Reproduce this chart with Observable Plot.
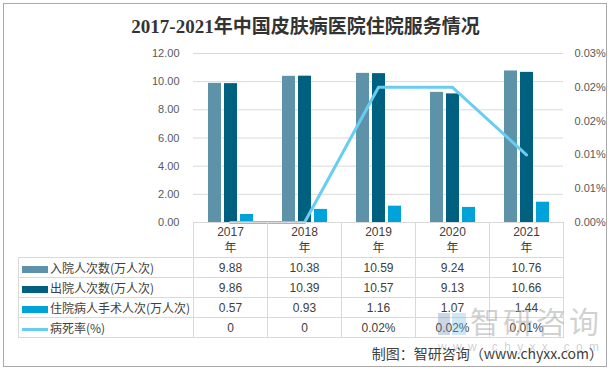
<!DOCTYPE html>
<html>
<head>
<meta charset="utf-8">
<script src="https://cdn.jsdelivr.net/npm/d3@7"></script>
<script src="https://cdn.jsdelivr.net/npm/@observablehq/plot@0.6"></script>
<style>
  body { margin: 0; background: #fff; }
  #wrap { position: relative; width: 611px; height: 371px; overflow: hidden; background: #fff;
          font-family: "Noto Sans CJK SC", "Liberation Sans", sans-serif; }
  #frame { position: absolute; left: 3px; top: 3px; width: 604px; height: 364px; box-sizing: border-box;
           border: 1.5px solid #a9a9a9; pointer-events: none; }
  #title { position: absolute; left: 0; width: 611px; top: 14px; text-align: center;
           font-family: "Liberation Serif", "Noto Sans CJK SC", serif; font-weight: bold; font-size: 19px;
           line-height: 26px; color: #333; }
  #chart { position: absolute; left: 0; top: 0; }
  #tbl { position: absolute; left: 18px; top: 222px; border-collapse: collapse; table-layout: fixed;
         width: 545px; font-size: 12px; color: #404040; }
  #tbl td { border: 1px solid #d9d9d9; padding: 0; text-align: center; white-space: nowrap; overflow: hidden;
            font-family: "Liberation Sans", "Noto Sans CJK SC", sans-serif; }
  #tbl tr.hdr td { height: 34px; line-height: 16px; }
  #tbl tr.row td { height: 19px; line-height: 16px; }
  #tbl td.blank { border-top: none; border-left: none; }
  #tbl td.lab { text-align: left; font-family: "Noto Sans CJK SC", sans-serif; }
  .sw { display: inline-block; width: 26px; vertical-align: middle; margin-left: 3px; margin-right: 2px; }
  #wm { position: absolute; left: 418px; top: 300px; color: rgba(170,170,170,0.55); pointer-events: none; }
  #wm .cn { position: absolute; left: 52px; top: 0px; font-size: 30px; letter-spacing: 3px; line-height: 40px; white-space: nowrap; }
  #wm .en { position: absolute; left: 20px; top: 40px; font-size: 12px; letter-spacing: 6.3px; line-height: 14px; white-space: nowrap;
            font-family: "Liberation Sans", sans-serif; }
  #wm .ic1 { position: absolute; left: 20px; top: 13px; width: 12px; height: 22px; background: rgba(110,140,175,0.35); }
  #wm .ic2 { position: absolute; left: 34px; top: 13px; width: 14px; height: 22px; background: rgba(120,190,230,0.35); }
  #caption { position: absolute; right: 8px; top: 343px; font-size: 14px; line-height: 20px; color: #404040; white-space: nowrap; }
</style>
</head>
<body>
<div id="wrap">
  <div id="title">2017-2021年中国皮肤病医院住院服务情况</div>
  <div id="chart"></div>
  <table id="tbl"></table>
  <div id="wm"><div class="ic1"></div><div class="ic2"></div><div class="cn">智研咨询</div><div class="en">www.chyxx.com</div></div>
  <div id="caption">制图：智研咨询（www.chyxx.com）</div>
  <div id="frame"></div>
</div>
<script>
// ---- data ----
const years = ["2017", "2018", "2019", "2020", "2021"];
const admissions = [9.88, 10.38, 10.59, 9.24, 10.76];   // 入院人次数(万人次)
const discharges = [9.86, 10.39, 10.57, 9.13, 10.66];   // 出院人次数(万人次)
const surgeries  = [0.57, 0.93, 1.16, 1.07, 1.44];      // 住院病人手术人次(万人次)
const mortality  = [0, 0, 0.024, 0.024, 0.012];         // 病死率(%)
const seriesNames = ["入院人次数(万人次)", "出院人次数(万人次)", "住院病人手术人次(万人次)", "病死率(%)"];
const leftTicks  = [0, 2, 4, 6, 8, 10, 12];
const rightTicks = [0, 0.006, 0.012, 0.018, 0.024, 0.03];
const leftMax = 12, rightMax = 0.03;
const colors = ["#5e92a9", "#00607f", "#00a2da", "#68cdf2"];

// ---- chart ----
const k = leftMax / rightMax;
const rows = years.map((y, i) => ({year: y, a: admissions[i], d: discharges[i], s: surgeries[i], m: mortality[i] * k}));

const chart = Plot.plot({
  width: 611, height: 371,
  marginTop: 53, marginBottom: 149, marginLeft: 193, marginRight: 48,
  style: {fontFamily: "'Liberation Sans', Arial, sans-serif", fontSize: "11px", color: "#595959", background: "transparent"},
  x: {type: "band", domain: years, padding: 0, axis: null},
  y: {domain: [0, leftMax], axis: null},
  marks: [
    Plot.ruleY(leftTicks.filter(t => t > 0), {stroke: "#d9d9d9", strokeWidth: 1}),
    Plot.axisY(leftTicks, {anchor: "left", tickSize: 0, tickPadding: 14, label: null, tickFormat: d => d.toFixed(2)}),
    Plot.axisY(rightTicks.map(t => t * k), {anchor: "right", tickSize: 0, tickPadding: 11, label: null, tickFormat: d => (d / k).toFixed(2) + "%"}),
    Plot.barY(rows, {x: "year", y: "a", fill: colors[0], insetLeft: 15, insetRight: 46}),
    Plot.barY(rows, {x: "year", y: "d", fill: colors[1], insetLeft: 31, insetRight: 30}),
    Plot.barY(rows, {x: "year", y: "s", fill: colors[2], insetLeft: 47, insetRight: 14}),
    Plot.line(rows, {x: "year", y: "m", stroke: colors[3], strokeWidth: 3})
  ]
});
document.getElementById("chart").appendChild(chart);

// ---- data table ----
const fmtRate = v => v === 0 ? "0" : v.toFixed(2) + "%";
const seriesVals = [admissions.map(v => v.toFixed(2)), discharges.map(v => v.toFixed(2)), surgeries.map(v => v.toFixed(2)), mortality.map(fmtRate)];
const tbl = document.getElementById("tbl");
let html = '<colgroup><col style="width:175px">' + years.map(() => '<col style="width:74px">').join("") + '</colgroup>';
html += '<tr class="hdr"><td class="blank"></td>' + years.map(y => `<td>${y}<br>年</td>`).join("") + '</tr>';
seriesNames.forEach((name, i) => {
  const sw = i < 3
    ? `<span class="sw" style="height:7px;background:${colors[i]}"></span>`
    : `<span class="sw" style="height:3px;background:${colors[i]}"></span>`;
  html += `<tr class="row"><td class="lab">${sw}${name}</td>` + seriesVals[i].map(v => `<td>${v}</td>`).join("") + '</tr>';
});
tbl.innerHTML = html;
</script>
</body>
</html>
